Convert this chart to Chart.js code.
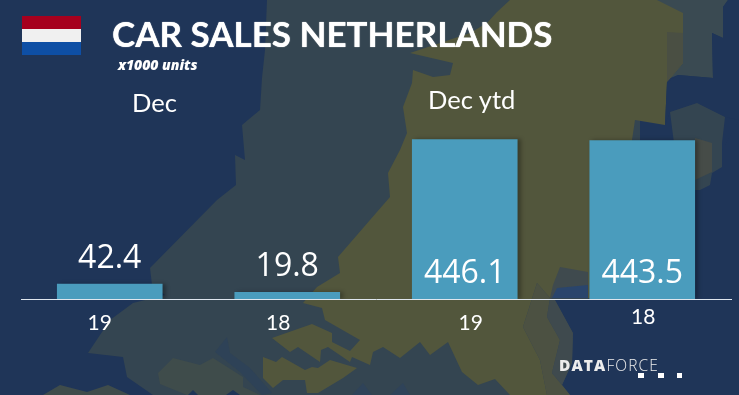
<!DOCTYPE html>
<html><head><meta charset="utf-8">
<script src="https://cdn.jsdelivr.net/npm/chart.js@4"></script>
<style>
html,body{margin:0;padding:0;background:#1f3558;}
#wrap{position:relative;width:739px;height:395px;overflow:hidden;background:#1f3558;}
#wrap svg{position:absolute;left:0;top:0;}
#wrap canvas{position:absolute;left:0;top:0;}
.t{position:absolute;color:#fff;white-space:nowrap;line-height:1;font-family:Lato,sans-serif;}
#title{left:112px;top:16px;font-size:35px;font-weight:700;text-shadow:0 0 1px #fff;}
#sub{left:118px;top:58px;font-size:14px;font-weight:800;font-style:italic;font-family:"Open Sans",sans-serif;}
.sec{font-size:25.5px;}
#logo{left:559px;top:358px;font-size:15.5px;letter-spacing:1.1px;color:#ececec;font-family:"Open Sans",sans-serif;}
#logo b{font-weight:800}#logo span{font-weight:300}
</style></head>
<body>
<div id="wrap">
<svg width="739" height="395" viewBox="0 0 739 395">
  <polygon fill="#344551" points="267,0 265,50 262,78 260,110 242,125 245,160 235,155 236,185 217,200 150,268 152,285 165,295 133,303 110,320 88,353 123,357 127,377 153,395 600,395 573,333 555,300 640,300 640,0"/>
  <polygon fill="#3f4c4b" points="158,373 173,358 200,365 213,358 243,377 243,387 260,395 187,395 160,384"/>
  <polygon fill="#1f3558" points="188,395 193,390 198,395"/>
  <polygon fill="#1f3558" points="226,395 233,390 240,395"/>
  <polygon fill="#3f4c4b" points="43,395 60,385 87,392 108,385 130,395"/>
  <polygon fill="#2e4257" points="227,337 230,353 250,368 272,393 262,395 240,372 215,352"/>
  <polygon fill="#2f4359" points="352,395 363,383 372,395"/>
  <polygon fill="#2f4359" points="390,395 403,383 410,395"/>
  <polygon fill="#3a4a52" points="640,0 728,0 723,7 723,38 712,33 713,78 678,75 640,90"/>
  <polygon fill="#52563c" points="510,0 657,0 683,13 683,63 673,75 667,82 665,125 635,120 632,140 640,298 550,298 537,283 523,327 540,360 547,395 510,395 495,379 478,385 462,372 448,342 430,355 420,342 400,358 383,347 373,352 370,365 352,357 350,362 328,347 321,350 320,362 298,347 290,352 272,338 312,324 332,333 332,342 350,351 360,340 325,320 322,308 303,303 317,287 340,273 338,257 370,220 390,197 388,173 400,150 407,133 403,107 412,83 413,70 433,77 450,75 453,63 410,53 470,33 487,23 497,12"/>
  <polygon fill="#52563c" points="263,357 276,362 282,357 305,370 312,367 318,368 330,360 357,368 343,378 318,393 307,393 305,380 283,380 273,388 263,378"/>
  <polygon fill="#4a4f43" points="667,32 683,33 683,63 673,75 667,82"/>
  <polygon fill="#1f3558" points="555,300 739,300 739,395 570,395 562,385 572,363 573,333"/>
  <polygon fill="#1f3558" points="640,300 640,190 700,190 739,120 739,300"/>
  <polygon fill="#1f3558" points="728,0 739,0 739,120 725,117 697,103 670,112 665,125 667,82 678,75 713,78 712,33 723,38 723,7"/>
  <polygon fill="#344551" points="670,112 697,103 725,117 722,143 722,167 712,173 710,185 700,190 680,190"/>
  <polygon fill="#464c48" points="695,138 712,143 712,172 695,180"/>
  <polygon fill="#4c5142" points="537,283 550,298 547,317 560,340 552,373 562,385 570,395 547,395 540,360 523,327"/>
  <polygon fill="#3f4a4e" points="550,298 555,300 573,333 572,363 562,385 552,373 560,340 547,317"/>
  <polygon fill="#3f4a4e" points="560,267 588,272 588,298 550,298 553,285"/>
  <polygon fill="#2a456c" points="557,288 588,285 588,298 552,298"/>
  <rect x="22" y="16" width="59" height="13" fill="#a6001e"/>
  <rect x="22" y="29" width="59" height="13" fill="#f0f0f0"/>
  <rect x="22" y="42" width="59" height="13" fill="#0e4fa5"/>
  <rect x="638" y="373" width="6" height="5" fill="#fff"/>
  <rect x="658" y="373" width="6" height="5" fill="#fff"/>
  <rect x="677" y="373" width="5" height="5" fill="#fff"/>
</svg>
<canvas id="c" width="739" height="395"></canvas>
<div class="t" id="title">CAR SALES NETHERLANDS</div>
<div class="t" id="sub">x1000 units</div>
<div class="t sec" style="left:132px;top:90px">Dec</div>
<div class="t sec" style="left:428px;top:87px">Dec ytd</div>
<div class="t" id="logo"><b>DATA</b><span>FORCE</span></div>
</div>
<script>
const categories = ["19", "18", "19", "18"];
const units = [42.4, 19.8, 446.1, 443.5];
const valueLabels = ["42.4", "19.8", "446.1", "443.5"];

const tickNudges = [[-10, 0], [-9, 0], [6, 0], [1, -6]];
const labelBaselines = [268, 276, 283, 283];

const layoutTweaks = {
  id: 'layoutTweaks',
  beforeDraw(chart) {
    const items = chart.scales.x.getLabelItems();
    items.forEach((it, i) => {
      if (it._moved) return;
      it._moved = true;
      const t = it.options.translation;
      it.options.translation = [t[0] + tickNudges[i][0], t[1] + tickNudges[i][1]];
    });
  },
  beforeDatasetsDraw(chart) {
    const ctx = chart.ctx;
    ctx.save();
    ctx.shadowColor = 'rgba(0,0,0,.3)';
    ctx.shadowBlur = 4;
    ctx.shadowOffsetX = 3;
    ctx.shadowOffsetY = 0;
  },
  afterDatasetsDraw(chart) {
    const ctx = chart.ctx;
    ctx.restore();
    const bars = chart.getDatasetMeta(0).data;
    ctx.save();
    ctx.font = '32px "Open Sans", sans-serif';
    ctx.fillStyle = '#fff';
    ctx.textAlign = 'center';
    ctx.textBaseline = 'alphabetic';
    bars.forEach((b, i) => ctx.fillText(valueLabels[i], b.x, labelBaselines[i]));
    ctx.restore();
  }
};

new Chart(document.getElementById('c'), {
  type: 'bar',
  data: { labels: categories, datasets: [{ data: units, backgroundColor: '#4a9cbd', borderWidth: 0,
    categoryPercentage: 1, barPercentage: 0.595 }] },
  plugins: [layoutTweaks],
  options: {
    responsive: false, animation: false, events: [],
    layout: { padding: { left: 21, right: 8, top: 120, bottom: 0 } },
    plugins: { legend: { display: false }, title: { display: false }, tooltip: { enabled: false } },
    scales: {
      x: {
        grid: { display: false, drawTicks: false },
        border: { color: '#dfe6ee', width: 1 },
        ticks: { color: '#fff', padding: 12, maxRotation: 0, autoSkip: false,
          font: { family: 'Lato, sans-serif', size: 21 } },
        afterFit(s) { s.height = 96; }
      },
      y: { display: false, min: 0, max: 500 }
    }
  }
});
</script>
</body></html>
